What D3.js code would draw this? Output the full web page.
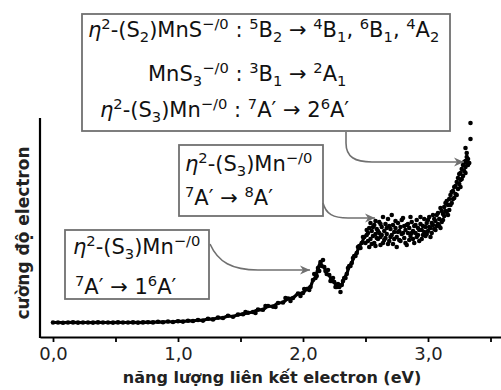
<!DOCTYPE html>
<html>
<head>
<meta charset="utf-8">
<script src="https://cdn.jsdelivr.net/npm/d3@7/dist/d3.min.js"></script>
<style>
    html, body { margin: 0; padding: 0; background: #fff; }
    svg { display: block; }
</style>
</head>
<body>
<div id="chart"></div>
<script>
// phổ: phần liền (đường)
const lineEnergy = [0.00, 0.04, 0.08, 0.12, 0.16, 0.20, 0.24, 0.28, 0.32, 0.36, 0.40, 0.44, 0.48, 0.52, 0.56, 0.60, 0.64, 0.68, 0.72, 0.76, 0.80,
    0.84, 0.88, 0.92, 0.96, 1.00, 1.04, 1.08, 1.12, 1.16, 1.20, 1.24, 1.28, 1.32, 1.36, 1.40, 1.44, 1.48, 1.52, 1.56, 1.60, 1.64, 1.68, 1.72, 1.76, 1.80, 1.84, 1.88, 1.92, 1.96, 2.00,
    2.03, 2.06, 2.08, 2.10, 2.12, 2.14, 2.15,
    2.17, 2.19, 2.21, 2.23, 2.25, 2.27, 2.29, 2.31, 2.33, 2.35, 2.37, 2.39, 2.41, 2.43, 2.45, 2.47, 2.49, 2.51];
const lineIntensity = [0.5, 0.5, 0.3, 0.5, 0.6, 0.4, 0.5, 0.5, 0.4, 0.6, 0.5, 0.5, 0.4, 0.6, 0.5, 0.5, 0.6, 0.4, 0.6, 0.8, 0.6,
    1.2, 0.8, 1.5, 1.0, 1.8, 1.4, 2.3, 2.0, 3.0, 2.4, 4.2, 3.6, 5.4, 5.0, 7.2, 6.3, 8.4, 8.8, 10.2, 11.0, 13.4, 13.2, 17.0, 16.4, 20.0, 20.5, 24.5, 25.0, 29.5, 30.0,
    34, 36, 43, 45, 55, 61, 57,
    56, 49, 48, 42, 41, 36, 36, 38, 45, 49, 57, 60, 67, 70, 77, 80, 86, 88];

// điểm nhiễu quanh đường, từ 1,5 eV đến 2,5 eV
const lineNoise = [
    [1.54, 11], [1.62, 10], [1.70, 17], [1.78, 16], [1.86, 25], [1.90, 22], [1.98, 27], [2.01, 34],
    [2.05, 33], [2.09, 49], [2.11, 47], [2.13, 52], [2.16, 63], [2.18, 52], [2.20, 53], [2.22, 42],
    [2.24, 45], [2.26, 36], [2.28, 39], [2.30, 31], [2.32, 42], [2.34, 45], [2.36, 55], [2.38, 57],
    [2.40, 65], [2.42, 67], [2.44, 76], [2.46, 75], [2.48, 86]
];

// phần tán xạ (điểm rời) ở năng lượng cao
const clusterPoints = [
    [2.52, 90], [2.52, 82], [2.53, 95], [2.54, 84], [2.55, 92], [2.56, 87], [2.57, 98], [2.57, 80],
    [2.58, 89], [2.59, 94], [2.60, 84], [2.61, 101], [2.61, 90], [2.62, 86], [2.63, 96], [2.64, 80],
    [2.65, 92], [2.66, 99], [2.66, 85], [2.67, 89], [2.68, 104], [2.69, 82], [2.70, 94], [2.71, 88],
    [2.72, 98], [2.72, 79], [2.73, 91], [2.74, 95], [2.75, 86], [2.76, 100], [2.77, 92], [2.77, 83],
    [2.78, 96], [2.79, 89], [2.80, 105], [2.81, 85], [2.82, 93], [2.83, 98], [2.83, 78], [2.84, 90],
    [2.85, 95], [2.86, 87], [2.87, 101], [2.88, 92], [2.88, 84], [2.89, 97], [2.90, 90], [2.91, 103],
    [2.92, 88], [2.92, 95], [2.93, 82], [2.94, 99], [2.95, 93], [2.96, 88], [2.97, 104], [2.98, 96],
    [2.98, 87], [2.99, 100], [3.00, 92], [3.01, 106], [3.02, 95], [3.02, 86], [3.03, 100], [3.04, 108],
    [3.05, 94], [3.06, 102], [3.07, 97], [3.08, 110], [3.08, 99], [3.09, 104], [3.10, 95], [3.11, 112],
    [3.12, 103], [3.13, 116], [3.13, 107], [3.14, 120], [3.15, 111], [3.16, 118], [3.17, 124], [3.17, 113],
    [3.18, 128], [3.19, 120], [3.20, 132], [3.21, 125], [3.21, 136], [3.22, 129], [3.23, 141], [3.24, 134],
    [3.24, 145], [3.25, 139], [3.26, 150], [3.26, 143], [3.27, 154], [3.28, 147], [3.28, 158], [3.29, 152],
    [3.30, 162], [3.30, 156], [3.31, 160], [3.32, 164], [3.32, 158], [3.31, 166], [3.30, 175], [3.34, 184], [3.34, 200],
    [2.50, 80], [2.51, 93], [2.53, 76], [2.54, 100], [2.55, 79], [2.56, 96], [2.58, 77], [2.58, 102],
    [2.59, 85], [2.60, 92], [2.62, 78], [2.62, 99], [2.63, 88], [2.64, 106], [2.65, 83], [2.67, 95],
    [2.68, 79], [2.69, 97], [2.70, 86], [2.71, 108], [2.73, 84], [2.74, 102], [2.75, 76], [2.76, 91],
    [2.78, 82], [2.79, 103], [2.80, 90], [2.81, 97], [2.82, 80], [2.84, 99], [2.85, 83], [2.86, 106],
    [2.87, 90], [2.89, 80], [2.90, 98], [2.91, 86], [2.93, 93], [2.94, 106], [2.95, 84], [2.96, 97],
    [2.97, 91], [2.99, 89], [3.00, 103], [3.01, 96], [3.03, 90], [3.04, 98], [3.05, 104], [3.06, 93],
    [3.07, 108], [3.09, 97], [3.10, 115], [3.11, 101], [3.12, 109], [3.14, 112], [3.15, 122], [3.16, 108],
    [3.18, 118], [3.19, 131], [3.20, 124], [3.22, 137], [3.23, 128], [3.25, 149], [3.26, 136], [3.27, 144],
    [3.29, 161], [3.30, 150], [3.31, 170], [3.33, 160]
];

const xTicks = [0, 0.5, 1, 1.5, 2, 2.5, 3, 3.5];
const xLabel = "năng lượng liên kết electron (eV)";
const yLabel = "cường độ electron";

// nhãn: [chữ, kiểu] — n: thường, i: nghiêng, sup: chỉ số trên, sub: chỉ số dưới
const box1Lines = [
    [["η", "i"], ["2", "sup"], ["-(S", "n"], ["2", "sub"], [")MnS", "n"], ["−/0", "sup"], [" : ", "n"], ["5", "sup"], ["B", "n"], ["2", "sub"],
        [" → ", "n"], ["4", "sup"], ["B", "n"], ["1", "sub"], [", ", "n"], ["6", "sup"], ["B", "n"], ["1", "sub"], [", ", "n"], ["4", "sup"], ["A", "n"], ["2", "sub"]],
    [["MnS", "n"], ["3", "sub"], ["−/0", "sup"], [" : ", "n"], ["3", "sup"], ["B", "n"], ["1", "sub"], [" → ", "n"], ["2", "sup"], ["A", "n"], ["1", "sub"]],
    [["η", "i"], ["2", "sup"], ["-(S", "n"], ["3", "sub"], [")Mn", "n"], ["−/0", "sup"], [" : ", "n"], ["7", "sup"], ["A′", "n"], [" → 2", "n"], ["6", "sup"], ["A′", "n"]]
];
const box2Lines = [
    [["η", "i"], ["2", "sup"], ["-(S", "n"], ["3", "sub"], [")Mn", "n"], ["−/0", "sup"]],
    [["7", "sup"], ["A′ → ", "n"], ["8", "sup"], ["A′", "n"]]
];
const box3Lines = [
    [["η", "i"], ["2", "sup"], ["-(S", "n"], ["3", "sub"], [")Mn", "n"], ["−/0", "sup"]],
    [["7", "sup"], ["A′ → 1", "n"], ["6", "sup"], ["A′", "n"]]
];

let width = 501, height = 390;

let svg = d3.select("#chart")
    .append("svg")
    .attr("width", width)
    .attr("height", height)
    .style("font-family", "'DejaVu Sans', sans-serif");

// trục x: 0 eV ở x = 53, 125 px cho mỗi eV
let x = d3.scaleLinear()
    .domain([-0.104, 3.584])
    .range([40, 501]);

let y = d3.scaleLinear()
    .domain([-14, 205])
    .range([337, 118]);

let defs = svg.append("defs");
defs.append("marker")
    .attr("id", "head")
    .attr("viewBox", "0 -5 11 10")
    .attr("refX", 10)
    .attr("refY", 0)
    .attr("markerWidth", 11)
    .attr("markerHeight", 10)
    .attr("markerUnits", "userSpaceOnUse")
    .attr("orient", "auto")
    .append("path")
    .attr("d", "M0,-4.5L10,0L0,4.5L3,0Z")
    .attr("fill", "#707070");

// trục
let xAxis = d3.axisBottom(x)
    .tickValues(xTicks)
    .tickSizeInner(5)
    .tickSizeOuter(0)
    .tickPadding(5)
    .tickFormat(d => Number.isInteger(d) ? d.toFixed(1).replace(".", ",") : "");

let gx = svg.append("g")
    .attr("transform", "translate(0," + y(-14) + ")")
    .call(xAxis);
gx.select(".domain").attr("stroke-width", 2.2);
gx.selectAll(".tick line").attr("stroke-width", 1.8);
gx.selectAll(".tick text")
    .attr("font-size", 18)
    .attr("font-family", "'DejaVu Sans', sans-serif")
    .attr("fill", "#222");

svg.append("line")
    .attr("x1", x.range()[0]).attr("x2", x.range()[0])
    .attr("y1", y.range()[1]).attr("y2", y.range()[0] + 1)
    .attr("stroke", "#000")
    .attr("stroke-width", 2.2);

svg.append("text")
    .attr("x", 272)
    .attr("y", 383)
    .attr("text-anchor", "middle")
    .attr("font-size", 16)
    .attr("font-weight", "bold")
    .attr("fill", "#222")
    .text(xLabel);

svg.append("text")
    .attr("transform", "translate(29,233) rotate(-90)")
    .attr("text-anchor", "middle")
    .attr("font-size", 17)
    .attr("font-weight", "bold")
    .attr("fill", "#222")
    .text(yLabel);

// dữ liệu
let lineData = lineEnergy.map((e, i) => [e, lineIntensity[i]]);

let line = d3.line()
    .x(d => x(d[0]))
    .y(d => y(d[1]));

svg.append("path")
    .datum(lineData)
    .attr("d", line)
    .attr("fill", "none")
    .attr("stroke", "#000")
    .attr("stroke-width", 3.2)
    .attr("stroke-linejoin", "round");

svg.append("g")
    .selectAll("circle")
    .data(lineData.concat(lineNoise, clusterPoints))
    .join("circle")
    .attr("cx", d => x(d[0]))
    .attr("cy", d => y(d[1]))
    .attr("r", 2.3)
    .attr("fill", "#000");

// chữ có chỉ số trên / dưới
function richText(g, tx, ty, segs, size) {
    let t = g.append("text")
        .attr("x", tx)
        .attr("y", ty)
        .attr("font-size", size)
        .attr("fill", "#111");
    let cur = 0;
    segs.forEach(function (s) {
        let off = s[1] === "sup" ? -0.4 * size : s[1] === "sub" ? 0.22 * size : 0;
        let ts = t.append("tspan")
            .attr("dy", off - cur)
            .text(s[0]);
        if (s[1] === "sup" || s[1] === "sub") ts.attr("font-size", size * 0.7);
        if (s[1] === "i") ts.attr("font-style", "italic");
        cur = off;
    });
}

function labelBox(x0, y0, x1, y1, lines, starts, baselines) {
    let g = svg.append("g");
    g.append("rect")
        .attr("x", x0).attr("y", y0)
        .attr("width", x1 - x0).attr("height", y1 - y0)
        .attr("fill", "#fff")
        .attr("stroke", "#707070")
        .attr("stroke-width", 1.8);
    lines.forEach(function (l, i) {
        richText(g, starts[i], baselines[i], l, 21);
    });
}

labelBox(82, 14, 450, 131, box1Lines, [88, 148, 100], [37, 81, 117]);
labelBox(179, 145, 323, 216, box2Lines, [185, 185], [171, 205]);
labelBox(65, 230, 209, 299, box3Lines, [73, 75], [254, 294]);

// mũi tên cong chỉ vào phổ
let arrows = [
    "M346,132 L346,143 C346,157 355,162 372,162 L464,162",
    "M323,203 C326,214 333,218 348,218 L375,218",
    "M210,244 C218,262 232,270 258,270 L310,270"
];
svg.append("g")
    .selectAll("path")
    .data(arrows)
    .join("path")
    .attr("d", d => d)
    .attr("fill", "none")
    .attr("stroke", "#707070")
    .attr("stroke-width", 1.6)
    .attr("marker-end", "url(#head)");
</script>
</body>
</html>
